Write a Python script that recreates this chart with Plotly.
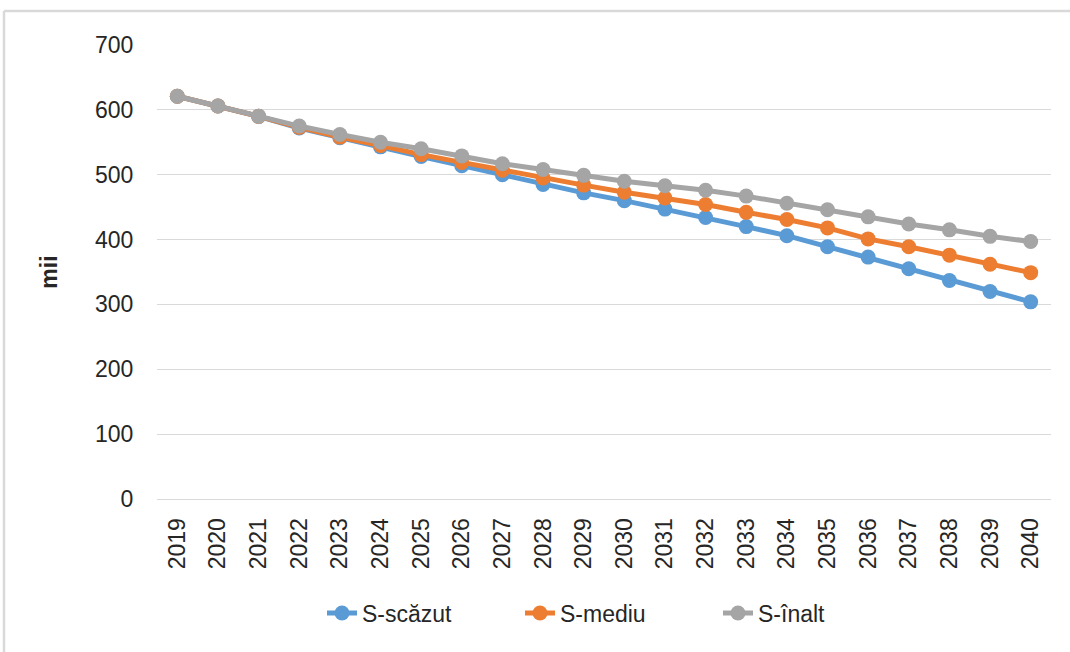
import plotly.graph_objects as go

# Years on the category axis
years = [str(y) for y in range(2019, 2041)]

# Population projections (thousands) for three scenarios
s_scazut = [621, 606, 590, 572, 557, 543, 528, 514, 500, 485, 472,
            460, 447, 434, 420, 406, 389, 373, 355, 337, 320, 304]
s_mediu = [621, 606, 590, 573, 558, 545, 531, 519, 507, 495, 484,
           473, 464, 454, 442, 431, 418, 401, 389, 376, 362, 349]
s_inalt = [621, 606, 590, 575, 562, 550, 540, 529, 517, 508, 499,
           490, 483, 476, 467, 456, 446, 435, 424, 415, 405, 397]

series = [
    ("S-scăzut", s_scazut, "#5B9BD5"),
    ("S-mediu", s_mediu, "#ED7D31"),
    ("S-înalt", s_inalt, "#A5A5A5"),
]

W, H = 1070, 652
ML, MR, MT, MB = 157, 19, 45, 153
FONT = "Liberation Sans, Arial, sans-serif"

fig = go.Figure()
for name, vals, color in series:
    fig.add_trace(go.Scatter(
        x=years, y=vals, name=name, mode="lines+markers",
        line=dict(color=color, width=5),
        marker=dict(color=color, size=15),
    ))

pw = W - ML - MR
ph = H - MT - MB


def px_x(px):
    return (px - ML) / pw


def px_y(py):
    return (H - MB - py) / ph


fig.update_layout(
    width=W, height=H,
    margin=dict(l=ML, r=MR, t=MT, b=MB),
    paper_bgcolor="white", plot_bgcolor="white",
    font=dict(family=FONT, size=23, color="#262626"),
    showlegend=True,
    legend=dict(
        orientation="h", x=px_x(322), y=px_y(613),
        xanchor="left", yanchor="middle",
        entrywidth=153, entrywidthmode="pixels",
        font=dict(size=23, color="#262626"),
        bgcolor="rgba(0,0,0,0)",
    ),
    xaxis=dict(
        type="category", range=[-0.5, 21.5],
        tickangle=-90, showgrid=False, zeroline=False,
        showline=True, linecolor="#d9d9d9", linewidth=1,
        ticks="outside", ticklen=9, tickcolor="rgba(0,0,0,0)",
        tickfont=dict(size=23),
    ),
    yaxis=dict(
        range=[0, 700], dtick=100, tick0=0,
        showgrid=True, gridcolor="#d9d9d9", gridwidth=1,
        zeroline=False, showline=False,
        ticks="outside", ticklen=18, tickcolor="rgba(0,0,0,0)",
        tickfont=dict(size=23),
        title=dict(text="<b>mii</b>", font=dict(size=23), standoff=30),
    ),
    shapes=[
        # chart frame (top and left edges)
        dict(type="line", xref="paper", yref="paper",
             x0=px_x(4), x1=px_x(1075), y0=px_y(11), y1=px_y(11),
             line=dict(color="#d9d9d9", width=2.5)),
        dict(type="line", xref="paper", yref="paper",
             x0=px_x(4), x1=px_x(4), y0=px_y(11), y1=px_y(660),
             line=dict(color="#d9d9d9", width=2.5)),
    ],
)

fig.write_html("out.html")
